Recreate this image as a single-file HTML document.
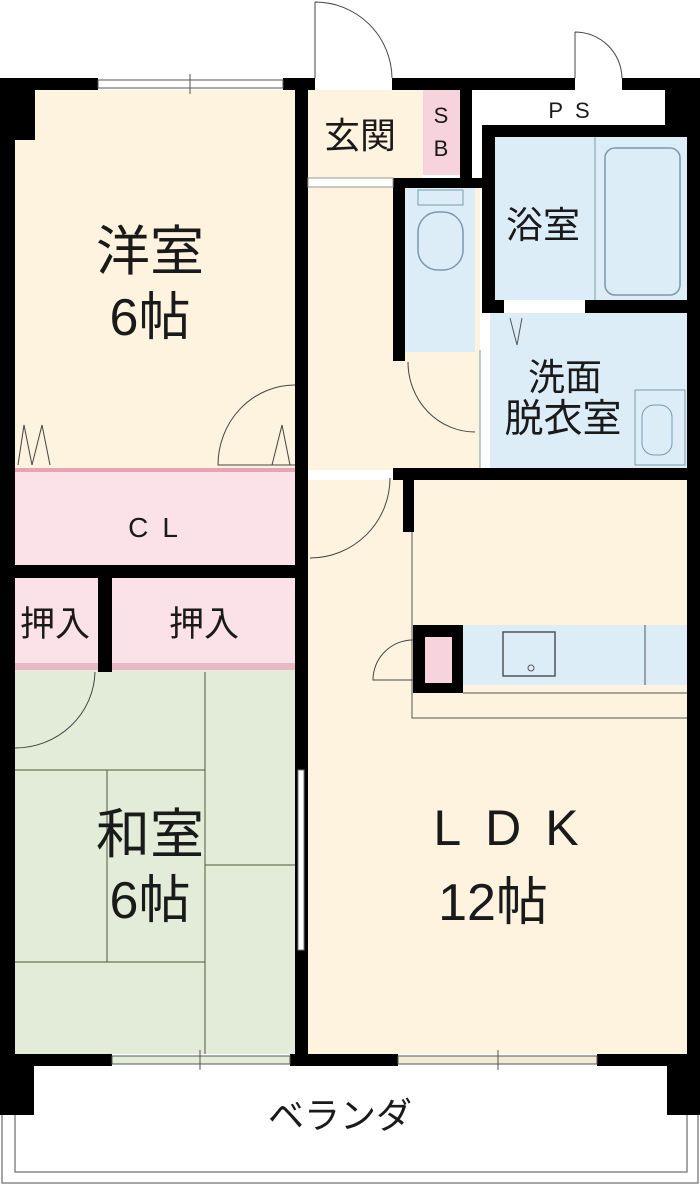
<!DOCTYPE html>
<html><head><meta charset="utf-8"><style>
html,body{margin:0;padding:0;background:#fff;}
svg{display:block;}
text{font-family:"Liberation Sans","Noto Sans CJK JP",sans-serif;fill:#1a1a1a;}
</style></head><body>
<svg width="700" height="1185" viewBox="0 0 700 1185" xmlns="http://www.w3.org/2000/svg">
<rect x="15" y="90" width="280" height="378" fill="#fdf3df"/>
<rect x="308" y="90" width="115" height="88" fill="#fdf3df"/>
<rect x="423" y="90" width="37" height="85" fill="#f7d3de"/>
<rect x="308" y="187" width="172" height="283" fill="#fdf3df"/>
<rect x="405" y="187" width="70" height="165" fill="#dcedf8"/>
<rect x="495" y="137" width="192" height="163" fill="#dcedf8"/>
<rect x="490" y="313" width="197" height="155" fill="#dcedf8"/>
<rect x="15" y="472" width="280" height="93" fill="#fbe1e8"/>
<rect x="15" y="578" width="83" height="87" fill="#fbe1e8"/>
<rect x="112" y="578" width="183" height="87" fill="#fbe1e8"/>
<rect x="15" y="665" width="280" height="389" fill="#e3ecd8"/>
<rect x="308" y="480" width="379" height="574" fill="#fdf3df"/>
<rect x="463" y="625" width="224" height="60" fill="#dcedf8"/>
<rect x="15" y="468" width="280" height="4" fill="#e9a4b3"/>
<rect x="15" y="663" width="280" height="7" fill="#e9b9c3"/>
<rect x="605" y="148" width="75" height="147" rx="10" fill="none" stroke="#7a9aab" stroke-width="1.5"/>
<line x1="595" y1="137" x2="595" y2="300" stroke="#7a9aab"/>
<rect x="635" y="390" width="50" height="75" fill="none" stroke="#7a9aab"/>
<rect x="642" y="405" width="30" height="50" rx="12" fill="none" stroke="#7a9aab"/>
<rect x="418" y="212" width="45" height="58" rx="20" fill="none" stroke="#7a9aab" stroke-width="1.5"/>
<rect x="418" y="190" width="45" height="15" fill="none" stroke="#7a9aab"/>
<line x1="480" y1="350" x2="480" y2="468" stroke="#7a9aab"/>
<polyline points="510,318 517,345 522,318" fill="none" stroke="#555"/>
<rect x="413" y="625" width="50" height="68" fill="#000"/>
<rect x="425" y="637" width="27" height="46" fill="#f7d3de"/>
<rect x="503" y="632" width="52" height="44" fill="none" stroke="#555" stroke-width="1.5"/>
<circle cx="531" cy="668" r="3" fill="none" stroke="#555"/>
<line x1="645" y1="625" x2="645" y2="685" stroke="#555"/>
<line x1="463" y1="693" x2="687" y2="693" stroke="#555"/>
<polyline points="412,532 412,718 687,718" fill="none" stroke="#555"/>
<path d="M413,640 A40,40 0 0 0 373,680 L413,680" fill="none" stroke="#444"/>
<g stroke="#4a5a3a" stroke-width="1" fill="none">
<line x1="205" y1="672" x2="205" y2="1054"/>
<line x1="15" y1="770" x2="205" y2="770"/>
<line x1="107" y1="770" x2="107" y2="962"/>
<line x1="205" y1="865" x2="295" y2="865"/>
<line x1="15" y1="962" x2="205" y2="962"/>
</g>
<g fill="#000">
<rect x="0" y="78" width="98" height="12"/>
<rect x="283" y="78" width="32" height="12"/>
<rect x="392" y="78" width="183" height="12"/>
<rect x="622" y="78" width="78" height="12"/>
<rect x="0" y="78" width="35" height="62"/>
<rect x="0" y="78" width="15" height="1037"/>
<rect x="687" y="78" width="13" height="1037"/>
<rect x="295" y="78" width="13" height="983"/>
<rect x="460" y="90" width="12" height="88"/>
<rect x="665" y="90" width="22" height="37"/>
<rect x="482" y="125" width="205" height="12"/>
<rect x="482" y="125" width="13" height="175"/>
<rect x="393" y="178" width="89" height="10"/>
<rect x="393" y="178" width="12" height="183"/>
<rect x="482" y="300" width="22" height="13"/>
<rect x="585" y="300" width="102" height="13"/>
<rect x="393" y="468" width="307" height="12"/>
<rect x="295" y="465" width="13" height="15"/>
<rect x="403" y="478" width="11" height="54"/>
<rect x="0" y="565" width="308" height="13"/>
<rect x="98" y="565" width="14" height="107"/>
<rect x="0" y="1054" width="112" height="12"/>
<rect x="290" y="1054" width="108" height="12"/>
<rect x="597" y="1054" width="103" height="12"/>
<rect x="0" y="1054" width="34" height="61"/>
<rect x="667" y="1054" width="33" height="61"/>
</g>
<g stroke="#555" fill="none">
<rect x="98" y="80" width="185" height="8"/>
<line x1="190" y1="74" x2="190" y2="94"/>
<rect x="112" y="1056" width="178" height="8" fill="#e3ecd8"/>
<line x1="200" y1="1050" x2="200" y2="1070"/>
<rect x="398" y="1056" width="199" height="8" fill="#f3ead6"/>
<line x1="498" y1="1050" x2="498" y2="1070"/>
<rect x="298" y="770" width="6" height="180" fill="#fff" stroke="#777"/>
<rect x="308" y="178" width="85" height="9" stroke="#999" fill="#fff"/>
</g>
<g stroke="#444" fill="none" stroke-width="1">
<path d="M315,2 L315,78 M315,2 A77,77 0 0 1 392,78"/>
<path d="M575,32 L575,78 M575,32 A47,47 0 0 1 622,78"/>
<path d="M295,385 A77,80 0 0 0 218,465 L295,465"/>
<path d="M408,362 A67,70 0 0 0 475,432"/>
<path d="M310,558 A80,80 0 0 0 390,478"/>
<path d="M15,748 A80,78 0 0 0 95,672"/>
<polyline points="18,465 24,425 32,465 42,425 50,465"/>
<polyline points="272,465 282,425 290,465"/>
</g>
<g fill="none" stroke="#888" stroke-width="1.5">
<polyline points="15,1115 15,1172 687,1172 687,1115"/>
<polyline points="2,1115 2,1183 698,1183 698,1115"/>
</g>
<rect x="475" y="90" width="190" height="35" fill="#fff"/>
<text x="150" y="270" font-size="54" text-anchor="middle">洋室</text>
<text x="150" y="335" font-size="52" text-anchor="middle">6帖</text>
<text x="360" y="148" font-size="36" text-anchor="middle">玄関</text>
<text x="441" y="123" font-size="22" text-anchor="middle">S</text>
<text x="441" y="156" font-size="22" text-anchor="middle">B</text>
<text x="575" y="118" font-size="22" text-anchor="middle" letter-spacing="12">PS</text>
<text x="543" y="238" font-size="37" text-anchor="middle">浴室</text>
<text x="565" y="390" font-size="37" text-anchor="middle">洗面</text>
<text x="563" y="432" font-size="39" text-anchor="middle">脱衣室</text>
<text x="160" y="537" font-size="28" text-anchor="middle" letter-spacing="14">CL</text>
<text x="55" y="636" font-size="35" text-anchor="middle">押入</text>
<text x="204" y="636" font-size="35" text-anchor="middle">押入</text>
<text x="150" y="853" font-size="54" text-anchor="middle">和室</text>
<text x="150" y="918" font-size="52" text-anchor="middle">6帖</text>
<text x="518" y="845" font-size="50" text-anchor="middle" letter-spacing="24">LDK</text>
<text x="493" y="920" font-size="52" text-anchor="middle">12帖</text>
<text x="340" y="1128" font-size="36" text-anchor="middle">ベランダ</text>
</svg>
</body></html>
